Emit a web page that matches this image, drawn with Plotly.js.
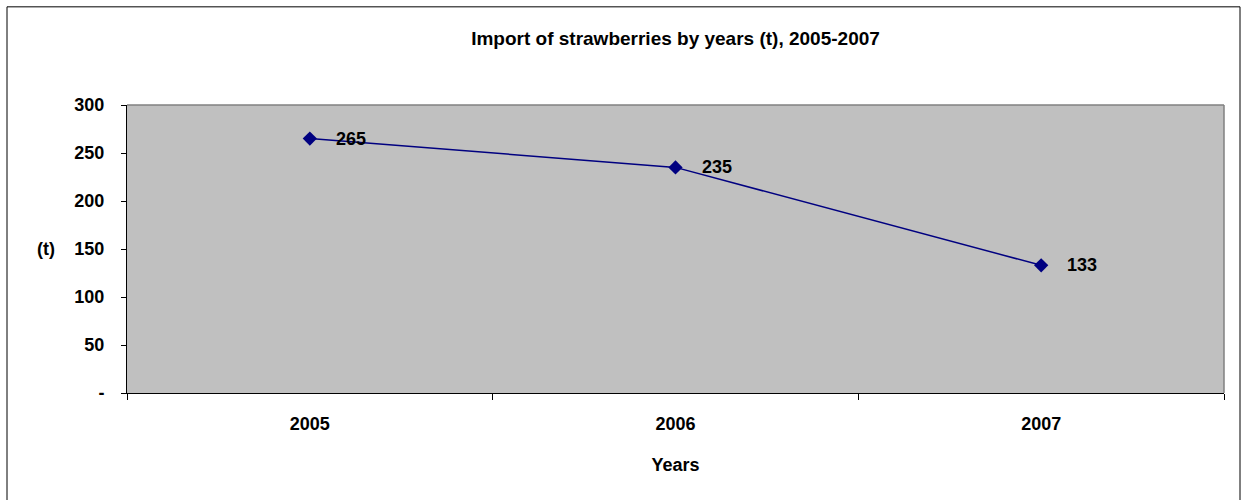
<!DOCTYPE html>
<html>
<head>
<meta charset="utf-8">
<script src="https://cdn.plot.ly/plotly-3.0.1.min.js"></script>
<style>html,body{margin:0;padding:0;background:#fff;}#chart{width:1246px;height:500px;}</style>
</head>
<body>
<div id="chart"></div>
<script>
const years = ["2005", "2006", "2007"];
const imports = [265, 235, 133];
const yTickVals = [0, 50, 100, 150, 200, 250, 300];
const yTickText = ["-", "50", "100", "150", "200", "250", "300"];

const W = 1246, H = 500;
const L = 127, R = 1224, T = 104.5, B = 393.5;
const pw = R - L, ph = B - T;
const px = v => (v - L) / pw;
const py = v => (B - v) / ph;

const font = {family: "Liberation Sans, Arial, sans-serif", color: "#000"};
const f = s => Object.assign({}, font, {size: s});

const trace = {
  type: "scatter",
  mode: "lines+markers",
  x: years,
  y: imports,
  line: {color: "#000080", width: 1.5},
  marker: {symbol: "diamond", size: 11, color: "#000080"},
  hoverinfo: "x+y",
  cliponaxis: false
};

const labelAnns = years.map((yr, i) => ({
  x: i, y: imports[i], xref: "x", yref: "y",
  text: "<b>" + imports[i] + "</b>",
  showarrow: false, xanchor: "left", yanchor: "middle",
  xshift: 24,
  font: f(18)
}));

const layout = {
  width: W, height: H,
  margin: {l: L, r: W - R, t: T, b: H - B, pad: 0},
  paper_bgcolor: "#ffffff",
  plot_bgcolor: "#c0c0c0",
  showlegend: false,
  font: font,
  title: {
    text: "<b>Import of strawberries by years (t), 2005-2007</b>",
    font: f(19),
    x: 0.5, xref: "paper", xanchor: "center",
    y: 1 - 38 / H, yref: "container", yanchor: "middle"
  },
  xaxis: {
    type: "category",
    tickmode: "array",
    tickvals: years,
    ticktext: years.map(s => "<b>" + s + "</b>"),
    tickson: "boundaries",
    ticks: "outside", ticklen: 6, tickcolor: "#000", tickwidth: 1,
    showline: true, linecolor: "#000", linewidth: 1,
    showgrid: false, zeroline: false,
    tickfont: f(18),
    ticklabelstandoff: 14,
    title: {text: "<b>Years</b>", font: f(18), standoff: 25},
    range: [-0.5, 2.5]
  },
  yaxis: {
    range: [0, 300],
    tickmode: "array",
    tickvals: yTickVals,
    ticktext: yTickText.map(s => "<b>" + s + "</b>"),
    ticks: "outside", ticklen: 5, tickcolor: "#000", tickwidth: 1,
    showline: true, linecolor: "#000", linewidth: 1,
    showgrid: false, zeroline: false,
    tickfont: f(18),
    ticklabelstandoff: 13
  },
  shapes: [
    {type: "rect", xref: "paper", yref: "paper",
     x0: px(7), x1: px(1240), y0: py(520), y1: py(6),
     line: {color: "#000", width: 1}, fillcolor: "rgba(0,0,0,0)", layer: "below"},
    {type: "line", xref: "paper", yref: "paper", x0: 0, x1: 1, y0: 1, y1: 1,
     line: {color: "#808080", width: 1.5}},
    {type: "line", xref: "paper", yref: "paper", x0: 1, x1: 1, y0: 0, y1: 1,
     line: {color: "#808080", width: 1.5}}
  ],
  annotations: labelAnns.concat([
    {xref: "paper", yref: "paper", x: px(46), y: py(249),
     text: "<b>(t)</b>", showarrow: false, xanchor: "center", yanchor: "middle",
     font: f(18)}
  ])
};

Plotly.newPlot("chart", [trace], layout, {displayModeBar: false, staticPlot: true});
</script>
</body>
</html>
